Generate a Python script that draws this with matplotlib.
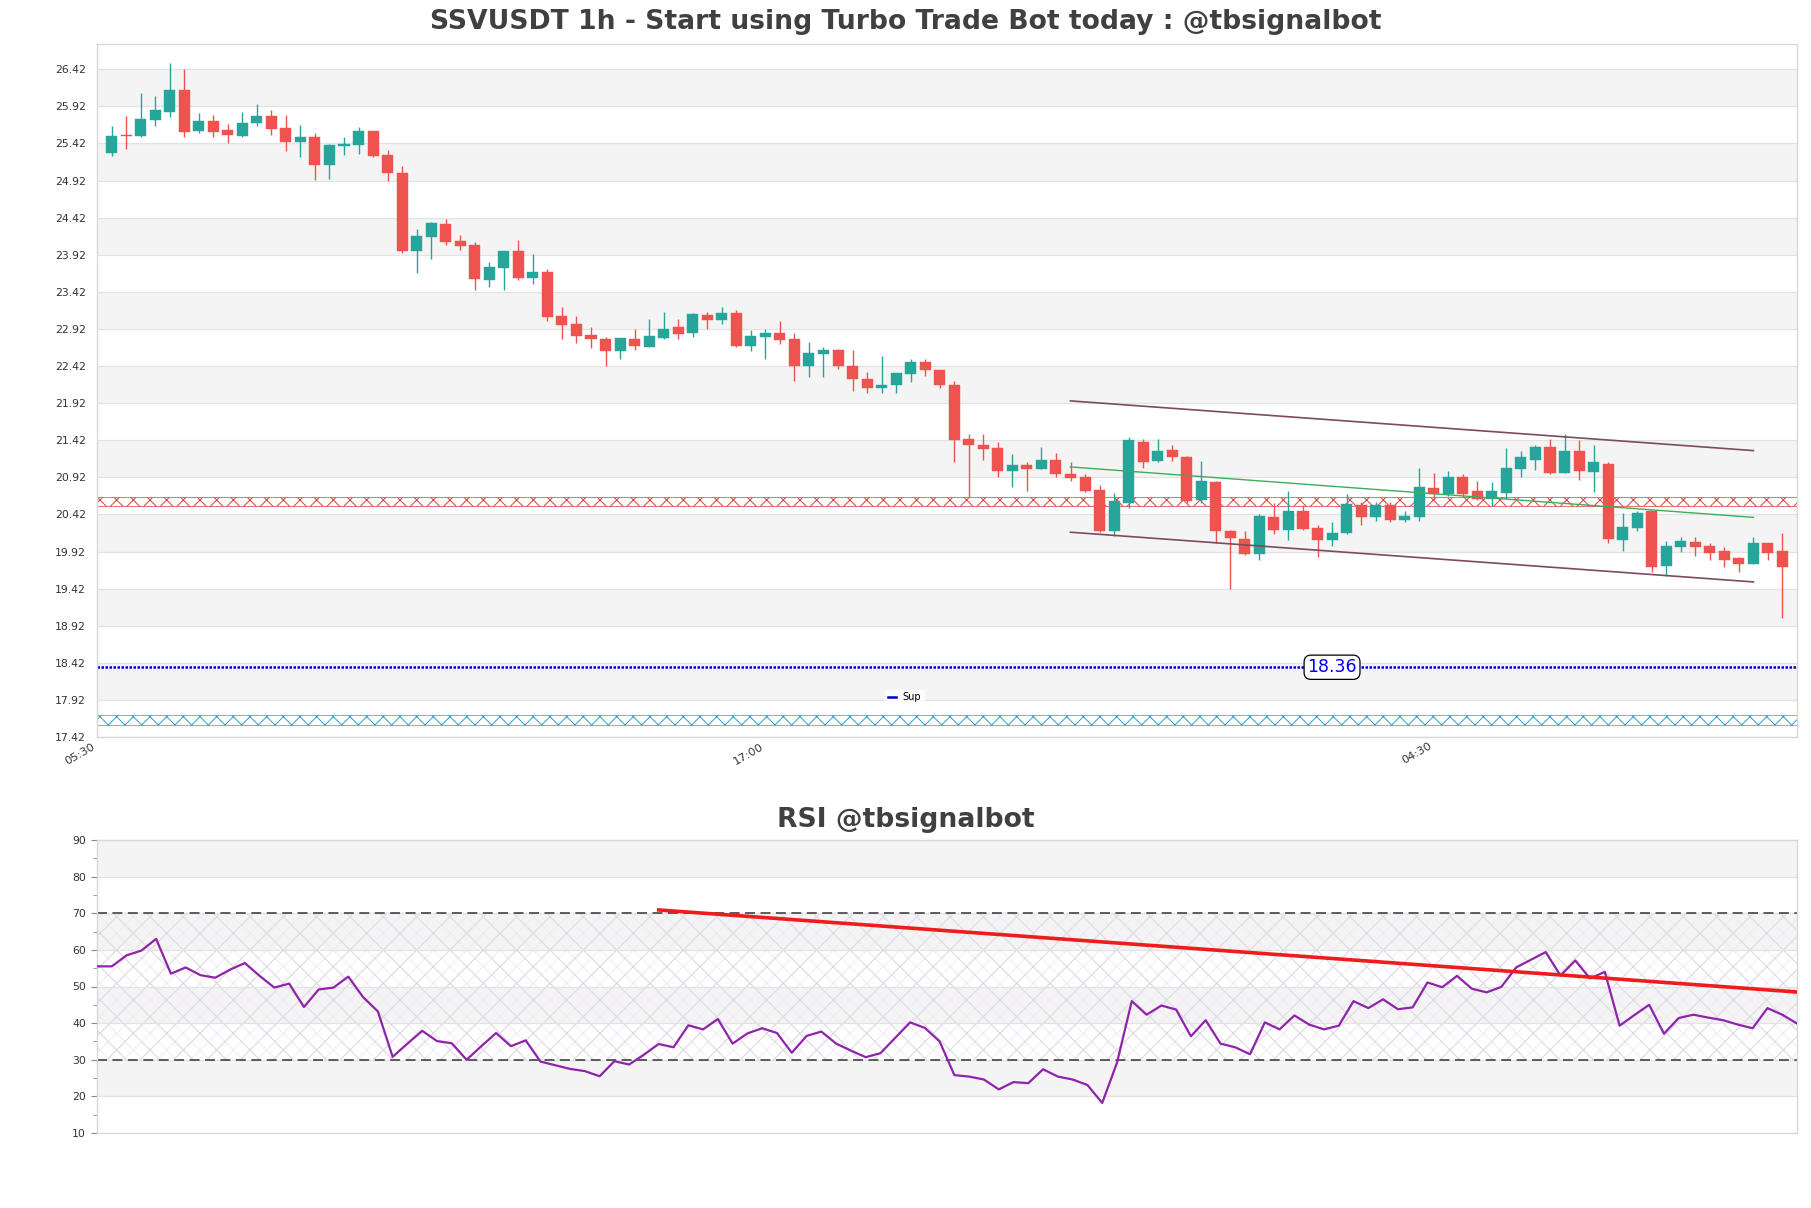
import numpy as np
import matplotlib
matplotlib.use("Agg")
import matplotlib.pyplot as plt
from matplotlib.lines import Line2D

# ---------------- data ----------------
opens = [25.29, 25.53, 25.52, 25.74, 25.85, 26.14, 25.59, 25.72, 25.60, 25.52,
         25.70, 25.79, 25.63, 25.44, 25.51, 25.13, 25.39, 25.40, 25.59, 25.26,
         25.02, 23.97, 24.16, 24.34, 24.10, 24.05, 23.58, 23.74, 23.965, 23.60,
         23.69, 23.09, 22.98, 22.84, 22.78, 22.62, 22.79, 22.68, 22.80, 22.94,
         22.86, 23.11, 23.04, 23.14, 22.69, 22.81, 22.87, 22.79, 22.42, 22.58,
         22.64, 22.42, 22.25, 22.13, 22.16, 22.31, 22.47, 22.37, 22.17, 21.43,
         21.36, 21.31, 21.00, 21.09, 21.03, 21.16, 20.97, 20.92, 20.75, 20.20,
         20.58, 21.40, 21.14, 21.29, 21.19, 20.61, 20.86, 20.20, 20.09, 19.88,
         20.39, 20.21, 20.47, 20.24, 20.08, 20.17, 20.55, 20.39, 20.55, 20.35,
         20.39, 20.78, 20.70, 20.92, 20.73, 20.63, 20.71, 21.03, 21.16, 21.33,
         20.98, 21.27, 20.99, 21.10, 20.08, 20.24, 20.46, 19.72, 19.98, 20.05,
         20.00, 19.93, 19.83, 19.75, 20.04, 19.93]
highs = [25.65, 25.79, 26.10, 26.06, 26.51, 26.42, 25.83, 25.80, 25.68, 25.85,
         25.95, 25.87, 25.80, 25.67, 25.56, 25.41, 25.51, 25.64, 25.59, 25.33,
         25.11, 24.27, 24.36, 24.40, 24.18, 24.09, 23.82, 23.97, 24.12, 23.93,
         23.73, 23.22, 23.09, 22.94, 22.81, 22.80, 22.92, 23.05, 23.15, 23.05,
         23.13, 23.15, 23.22, 23.18, 22.90, 22.92, 23.02, 22.86, 22.75, 22.67,
         22.65, 22.63, 22.34, 22.56, 22.32, 22.52, 22.52, 22.37, 22.22, 21.50,
         21.51, 21.40, 21.23, 21.12, 21.33, 21.25, 21.13, 20.97, 20.81, 20.71,
         21.46, 21.43, 21.44, 21.36, 21.21, 21.14, 20.87, 20.21, 20.20, 20.42,
         20.57, 20.73, 20.55, 20.28, 20.32, 20.69, 20.59, 20.59, 20.59, 20.47,
         21.04, 20.98, 21.01, 20.97, 20.87, 20.86, 21.31, 21.28, 21.35, 21.43,
         21.51, 21.42, 21.36, 21.13, 20.44, 20.47, 20.46, 20.06, 20.12, 20.12,
         20.04, 19.98, 19.85, 20.12, 20.04, 20.17]
lows = [25.25, 25.34, 25.50, 25.65, 25.77, 25.50, 25.56, 25.51, 25.42, 25.50,
        25.66, 25.54, 25.32, 25.24, 24.93, 24.94, 25.26, 25.28, 25.24, 24.92,
        23.94, 23.67, 23.86, 24.05, 23.98, 23.44, 23.48, 23.44, 23.58, 23.53,
        23.02, 22.79, 22.73, 22.66, 22.42, 22.51, 22.63, 22.67, 22.78, 22.78,
        22.81, 22.92, 22.98, 22.67, 22.62, 22.52, 22.72, 22.22, 22.27, 22.27,
        22.38, 22.09, 22.05, 22.05, 22.05, 22.21, 22.28, 22.13, 21.12, 20.65,
        21.16, 20.92, 20.79, 20.74, 21.03, 20.93, 20.87, 20.72, 20.18, 20.13,
        20.51, 21.05, 21.12, 21.14, 20.58, 20.57, 20.04, 19.42, 19.87, 19.80,
        20.16, 20.08, 20.21, 19.84, 20.00, 20.16, 20.28, 20.33, 20.32, 20.32,
        20.33, 20.62, 20.67, 20.65, 20.62, 20.53, 20.63, 20.92, 21.02, 20.97,
        20.98, 20.88, 20.72, 20.04, 19.93, 20.20, 19.65, 19.59, 19.92, 19.86,
        19.81, 19.71, 19.65, 19.75, 19.80, 19.02]
closes = [25.52, 25.52, 25.75, 25.87, 26.14, 25.58, 25.72, 25.58, 25.54, 25.69,
          25.79, 25.62, 25.44, 25.51, 25.13, 25.40, 25.41, 25.59, 25.25, 25.02,
          23.97, 24.17, 24.35, 24.09, 24.04, 23.59, 23.76, 23.97, 23.60, 23.69,
          23.08, 22.97, 22.83, 22.78, 22.62, 22.80, 22.69, 22.82, 22.92, 22.85,
          23.12, 23.04, 23.14, 22.69, 22.82, 22.87, 22.77, 22.42, 22.59, 22.64,
          22.42, 22.25, 22.12, 22.17, 22.32, 22.47, 22.36, 22.16, 21.42, 21.35,
          21.30, 21.00, 21.08, 21.03, 21.16, 20.96, 20.91, 20.74, 20.20, 20.60,
          21.42, 21.12, 21.28, 21.19, 20.60, 20.87, 20.19, 20.10, 19.88, 20.40,
          20.21, 20.46, 20.23, 20.08, 20.17, 20.56, 20.39, 20.55, 20.35, 20.40,
          20.79, 20.70, 20.92, 20.70, 20.63, 20.73, 21.04, 21.19, 21.33, 20.98,
          21.28, 21.00, 21.12, 20.09, 20.25, 20.44, 19.71, 20.00, 20.06, 19.98,
          19.90, 19.81, 19.75, 20.04, 19.90, 19.71]

rsi = [55.5, 55.5, 58.5, 59.8, 63.0, 53.5, 55.2, 53.1, 52.4, 54.6,
       56.4, 52.9, 49.7, 50.8, 44.4, 49.2, 49.7, 52.7, 47.1, 43.2,
       30.8, 34.4, 37.9, 35.1, 34.5, 30.0, 33.7, 37.3, 33.7, 35.3,
       29.5, 28.5, 27.5, 26.9, 25.5, 29.6, 28.7, 31.4, 34.3, 33.4,
       39.4, 38.3, 41.1, 34.4, 37.2, 38.6, 37.3, 31.9, 36.5, 37.7,
       34.4, 32.5, 30.7, 31.8, 36.0, 40.2, 38.7, 35.0, 25.8, 25.4,
       24.6, 21.9, 23.9, 23.6, 27.4, 25.4, 24.6, 23.1, 18.2, 29.2,
       46.0, 42.3, 44.8, 43.7, 36.4, 40.8, 34.4, 33.4, 31.5, 40.2,
       38.3, 42.1, 39.6, 38.3, 39.3, 46.0, 44.1, 46.5, 43.8, 44.3,
       51.1, 49.8, 52.9, 49.4, 48.4, 49.9, 55.2, 57.3, 59.4, 53.0,
       57.1, 52.2, 54.0, 39.3, 42.2, 45.0, 37.1, 41.4, 42.3, 41.5,
       40.8, 39.6, 38.6, 44.1, 42.3, 39.9]

time_tick_pos = [-1, 45, 91]
time_tick_labels = ["05:30", "17:00", "04:30"]

support_level = 18.36
resist_band = (20.54, 20.66)
low_band = (17.58, 17.72)

chan_x = [66, 113]
chan_upper = [21.95, 21.28]
chan_mid = [21.06, 20.38]
chan_lower = [20.18, 19.51]

rsi_trend_x = [38, 115]
rsi_trend_y = [70.9, 48.5]

title_main = "SSVUSDT 1h - Start using Turbo Trade Bot today : @tbsignalbot"
title_rsi = "RSI @tbsignalbot"

# ---------------- figure ----------------
plt.rcParams['font.family'] = ['DejaVu Sans']
plt.rcParams['hatch.linewidth'] = 0.7
W, H = 1811, 1208
fig = plt.figure(figsize=(W / 100, H / 100), dpi=100)
fig.patch.set_facecolor('white')

def frac_box(l, t, r, b):
    return [l / W, 1 - b / H, (r - l) / W, (b - t) / H]

ax = fig.add_axes(frac_box(97, 44, 1797, 737))
ax2 = fig.add_axes(frac_box(97, 840, 1797, 1133))

GREEN = '#26a69a'
RED = '#ef5350'
BAND = '#f4f4f4'
GRID = '#e3e3e3'
SPINE = '#d8d8d8'
TXT = '#333333'

n = len(opens)
x = np.arange(n)
o = np.array(opens); h = np.array(highs); l = np.array(lows); c = np.array(closes)

ymin, ymax = 17.42, 26.76
ax.set_xlim(-1, n)
ax.set_ylim(ymin, ymax)
yt = np.round(np.arange(17.42, 26.43, 0.5), 2)
for i in range(len(yt) - 1):
    if i % 2 == 1:
        ax.axhspan(yt[i], yt[i + 1], color=BAND, zorder=0, lw=0)
for v in yt:
    ax.axhline(v, color=GRID, lw=0.9, zorder=0.5)

# hatched bands
ax.fill_between([-1, n], resist_band[0], resist_band[1], facecolor='none',
                edgecolor='#e23a3a', hatch='xx', lw=0.5, zorder=1)
ax.fill_between([-1, n], low_band[0], low_band[1], facecolor='none',
                edgecolor='#2a9fd8', hatch='xx', lw=0.5, zorder=1)

# support line
ax.axhline(support_level, color='#0000c0', lw=1.8, ls=(0, (1, 0.6)), zorder=2)
ax.text(84, support_level, f"{support_level:.2f}", color='#0000ee', fontsize=12.5,
        ha='center', va='center', zorder=6,
        bbox=dict(boxstyle='round,pad=0.18,rounding_size=0.4', fc='white', ec='black', lw=0.9))

# candles
up = c >= o
colors = np.where(up, GREEN, RED)
ax.vlines(x, l, h, colors=colors, lw=1.0, zorder=3)
body_bot = np.minimum(o, c)
body_h = np.maximum(np.abs(c - o), 0.012)
ax.bar(x, body_h, bottom=body_bot, width=0.76, color=colors, edgecolor=colors, lw=0.3, zorder=4)

# channel
ax.plot(chan_x, chan_upper, color='#7d4a5e', lw=1.2, zorder=5)
ax.plot(chan_x, chan_lower, color='#7d4a5e', lw=1.2, zorder=5)
ax.plot(chan_x, chan_mid, color='#3cae5a', lw=1.0, zorder=5)

ax.set_yticks(yt)
ax.set_yticklabels([f"{v:.2f}" for v in yt], fontsize=7.8, color=TXT)
ax.set_xticks(time_tick_pos)
ax.set_xticklabels(time_tick_labels, fontsize=8.2, color=TXT, rotation=30, ha='right')
ax.tick_params(axis='y', length=0, pad=8)
ax.tick_params(axis='x', length=0, pad=3)
for s in ax.spines.values():
    s.set_color(SPINE)
    s.set_linewidth(1.0)

leg = ax.legend(handles=[Line2D([], [], color='#0000c0', lw=1.8)], labels=['Sup'],
                loc='center', bbox_to_anchor=(0.475, 0.057), fontsize=7,
                frameon=True, handlelength=0.8, borderpad=0.3, handletextpad=0.6)
leg.get_frame().set_facecolor('white')
leg.get_frame().set_edgecolor('white')

# ---------------- RSI ----------------
ax2.set_xlim(0, n - 1)
ax2.set_ylim(10, 90)
for lo in [20, 40, 60, 80]:
    ax2.axhspan(lo, lo + 10, color=BAND, zorder=0, lw=0)
ax2.fill_between([0, n - 1], 30, 70, facecolor='none', edgecolor='#dedae3',
                 hatch='x', lw=0, zorder=0.6)
ax2.fill_between([0, n - 1], 30, 70, facecolor='none', edgecolor='#f2e8f4',
                 hatch='xx', lw=0, zorder=0.55)
for v in range(10, 91, 10):
    ax2.axhline(v, color=GRID, lw=0.9, zorder=0.7)
ax2.axhline(70, color='#333333', lw=1.1, ls=(0, (6.5, 3.6)), zorder=2)
ax2.axhline(30, color='#333333', lw=1.1, ls=(0, (6.5, 3.6)), zorder=2)
ax2.plot(x, rsi, color='#8e24aa', lw=1.6, zorder=3)
ax2.plot(rsi_trend_x, rsi_trend_y, color='#ee1c1c', lw=2.6, zorder=4)

ax2.set_yticks(range(10, 91, 10))
ax2.set_yticklabels([str(v) for v in range(10, 91, 10)], fontsize=7.8, color=TXT)
ax2.set_yticks(range(15, 90, 10), minor=True)
ax2.tick_params(axis='y', which='major', length=4, color='#888888', pad=4)
ax2.tick_params(axis='y', which='minor', length=3, color='#888888')
ax2.set_xticks([])
for s in ax2.spines.values():
    s.set_color(SPINE)
    s.set_linewidth(1.0)

# titles
fig.text(0.5, 1 - 22 / H, title_main, ha='center', va='center', fontsize=19.2,
         fontweight='bold', color='#404040')
fig.text(0.5, 1 - 820 / H, title_rsi, ha='center', va='center', fontsize=19.2,
         fontweight='bold', color='#404040')

fig.savefig('out.png', dpi=100)
